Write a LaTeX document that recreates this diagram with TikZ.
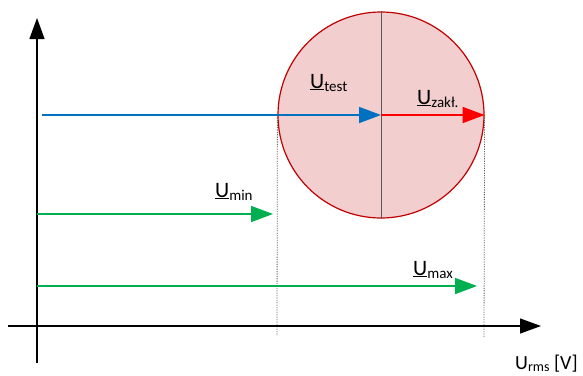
\documentclass[tikz,border=0pt]{standalone}
\usepackage{fontspec}
\setmainfont{Carlito}
\usetikzlibrary{arrows.meta}
\definecolor{ublue}{RGB}{0,112,192}
\definecolor{ugreen}{RGB}{0,176,80}
\definecolor{ured}{RGB}{255,0,0}
\definecolor{cfill}{RGB}{242,206,206}
\definecolor{cdraw}{RGB}{192,0,0}
\newcommand{\Ulab}[1]{\underline{U}\raisebox{-0.3ex}{\fontsize{15}{15}\selectfont #1}}
\begin{document}
\begin{tikzpicture}[x=1pt,y=-1pt,
  vec/.style={line width=1.6pt,-{Triangle[length=22pt,width=16pt]}},
  axis/.style={line width=1.2pt,-{Triangle[length=21pt,width=15pt]}},
  guide/.style={gray!80!black,dash pattern=on 1.2pt off 1.2pt,line width=0.8pt},
  lab/.style={inner sep=0pt,anchor=base west,font=\fontsize{22}{22}\selectfont}]
\useasboundingbox (0,0) rectangle (583,375);
% circle
\coordinate (C) at (381,115);
\node[circle,draw=cdraw,fill=cfill,line width=1.2pt,minimum size=206pt,inner sep=0pt] (circ) at (C) {};
\draw[gray!70!black,line width=0.8pt] (circ.north) -- (circ.south);
% guides
\coordinate (gl) at (277,336);
\coordinate (gr) at (484,338);
\draw[guide] (circ.west) -- (gl);
\draw[guide] (circ.east) -- (gr);
% axes
\coordinate (yb) at (37,363);
\coordinate (yt) at (37,18);
\coordinate (xl) at (8,326);
\coordinate (xr) at (541,326);
\draw[axis] (yb) -- (yt);
\draw[axis] (xl) -- (xr);
% vectors
\coordinate (bs) at (42,115);
\draw[vec,ublue] (bs) -- (C);
\draw[vec,ured] (C) -- (circ.east);
\coordinate (m1) at (37,214);
\coordinate (m2) at (273,214);
\draw[vec,ugreen] (m1) -- (m2);
\coordinate (x1) at (37,286);
\coordinate (x2) at (477,286);
\draw[vec,ugreen] (x1) -- (x2);
% labels
\node[lab] (ltest) at (310,88) {\Ulab{test}};
\node[lab] (lzak) at (417,104) {\Ulab{zakł.}};
\node[lab] (lmin) at (215,197) {\Ulab{min}};
\node[lab] (lmax) at (413,275) {\Ulab{max}};
\node[lab,font=\fontsize{20}{20}\selectfont] (lrms) at (515,369) {U\raisebox{-0.3ex}{\fontsize{14}{14}\selectfont rms} [V]};
\end{tikzpicture}
\end{document}
